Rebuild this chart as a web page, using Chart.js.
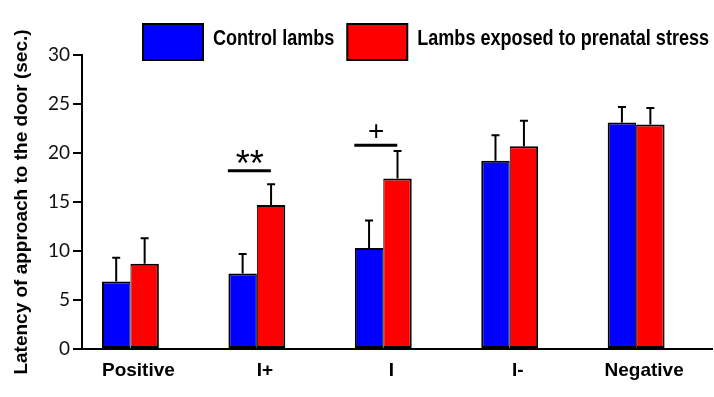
<!DOCTYPE html>
<html>
<head>
<meta charset="utf-8">
<script src="https://cdn.jsdelivr.net/npm/chart.js@4/dist/chart.umd.min.js"></script>
<style>
	html, body { margin: 0; padding: 0; background: #fff; }
</style>
</head>
<body>
<canvas id="myChart" width="714" height="397"></canvas>
<script>
/* 데이터 */
const categories = ['Positive', 'I+', 'I', 'I-', 'Negative'];
const controlMeans = [6.9, 7.7, 10.3, 19.2, 23.1];
const controlErrors = [2.4, 2.0, 2.8, 2.6, 1.6];
const stressMeans = [8.7, 14.7, 17.4, 20.7, 22.9];
const stressErrors = [2.6, 2.1, 2.8, 2.6, 1.7];
const yTicks = [0, 5, 10, 15, 20, 25, 30];

/* significance marks */
const sigIndex = [1, 2];
const sigLevel = [18.2, 20.8];
const sigText = ['**', '+'];

const boldFont = "'Liberation Sans', Arial, sans-serif";

/* error bars (위쪽만) */
const errorBarPlugin = {
	id: 'errorBars',
	afterDatasetsDraw(chart) {
		const ctx = chart.ctx;
		const yScale = chart.scales.y;
		ctx.save();
		ctx.strokeStyle = '#000';
		ctx.lineWidth = 2;
		chart.data.datasets.forEach((ds, di) => {
			const meta = chart.getDatasetMeta(di);
			meta.data.forEach((bar, i) => {
				const top = yScale.getPixelForValue(ds.data[i].y + ds.errors[i]);
				ctx.beginPath();
				ctx.moveTo(bar.x, bar.y);
				ctx.lineTo(bar.x, top);
				ctx.moveTo(bar.x - 4, top);
				ctx.lineTo(bar.x + 4, top);
				ctx.stroke();
			});
		});
		ctx.restore();
	}
};

/* ** and + over the groups */
const sigPlugin = {
	id: 'sigMarks',
	afterDatasetsDraw(chart) {
		const ctx = chart.ctx;
		const xScale = chart.scales.x;
		const yScale = chart.scales.y;
		ctx.save();
		ctx.strokeStyle = '#000';
		ctx.fillStyle = '#000';
		ctx.lineWidth = 3;
		ctx.textAlign = 'center';
		ctx.textBaseline = 'alphabetic';
		for (let k = 0; k < sigIndex.length; k++) {
			const cx = xScale.getPixelForValue(sigIndex[k]);
			const ly = yScale.getPixelForValue(sigLevel[k]);
			ctx.beginPath();
			ctx.moveTo(cx - 29, ly);
			ctx.lineTo(cx + 14, ly);
			ctx.stroke();
			ctx.font = (sigText[k] === '**' ? 36 : 28) + "px 'Liberation Sans', Arial, sans-serif";
			const m = ctx.measureText(sigText[k]);
			const mid = ly - 14;
			const base = mid + (m.actualBoundingBoxAscent - m.actualBoundingBoxDescent) / 2;
			ctx.fillText(sigText[k], cx - 7, base);
		}
		ctx.restore();
	}
};

/* legend with big boxes, narrow text */
const boxLegendPlugin = {
	id: 'boxLegend',
	afterDraw(chart) {
		const ctx = chart.ctx;
		const squeeze = 0.82;
		ctx.save();
		ctx.font = 'bold 22px ' + boldFont;
		ctx.textBaseline = 'alphabetic';
		ctx.textAlign = 'left';
		let x = 143;
		chart.data.datasets.forEach((ds) => {
			ctx.fillStyle = ds.backgroundColor;
			ctx.fillRect(x, 24, 60, 36);
			ctx.lineWidth = 2;
			ctx.strokeStyle = '#000';
			ctx.strokeRect(x, 24, 60, 36);
			x += 70;
			ctx.save();
			ctx.translate(x, 45);
			ctx.scale(squeeze, 1);
			ctx.fillStyle = '#000';
			ctx.fillText(ds.label, 0, 0);
			ctx.restore();
			x += ctx.measureText(ds.label).width * squeeze + 13;
		});
		ctx.restore();
	}
};

const myChart = new Chart(document.getElementById('myChart').getContext('2d'), {
	type: 'bar',
	data: {
		datasets: [
			{
				label: 'Control lambs',
				data: categories.map((c, i) => ({ x: i, y: controlMeans[i] })),
				errors: controlErrors,
				backgroundColor: '#0000ff',
				borderColor: '#000',
				borderWidth: { top: 2, left: 2, right: 1, bottom: 2 },
				borderSkipped: false
			},
			{
				label: 'Lambs exposed to prenatal stress',
				data: categories.map((c, i) => ({ x: i, y: stressMeans[i] })),
				errors: stressErrors,
				backgroundColor: '#ff0000',
				borderColor: '#000',
				borderWidth: { top: 2, left: 1, right: 2, bottom: 2 },
				borderSkipped: false
			}
		]
	},
	options: {
		responsive: false,
		animation: false,
		categoryPercentage: 0.45,
		barPercentage: 1.0,
		layout: { padding: { top: 55, right: 2, left: 0, bottom: 0 } },
		plugins: {
			legend: { display: false },
			tooltip: { enabled: false }
		},
		scales: {
			x: {
				type: 'linear',
				offset: false,
				bounds: 'data',
				min: -0.383,
				max: 4.6,
				afterBuildTicks: (s) => { s.ticks = categories.map((c, i) => ({ value: i })); },
				afterFit: (s) => { s.height = 48; },
				ticks: {
					callback: (v) => categories[v],
					color: '#000',
					font: { family: boldFont, size: 19, weight: 'bold' },
					padding: 10,
					labelOffset: 8,
					autoSkip: false,
					maxRotation: 0
				},
				grid: { display: false, drawTicks: false, offset: false },
				border: { color: '#000', width: 2 }
			},
			y: {
				min: 0,
				max: 30,
				afterBuildTicks: (s) => { s.ticks = yTicks.map(v => ({ value: v })); },
				afterFit: (s) => { s.width = 82; },
				ticks: {
					color: '#111',
					font: { family: 'Lato', size: 19 },
					padding: 3
				},
				grid: { drawOnChartArea: false, drawTicks: true, tickLength: 9, color: '#000', lineWidth: 2 },
				border: { color: '#000', width: 2 },
				title: {
					display: true,
					text: 'Latency of approach to the door (sec.)',
					color: '#000',
					font: { family: boldFont, size: 19, weight: 'bold' },
					padding: { top: 10, bottom: 0 }
				}
			}
		}
	},
	plugins: [errorBarPlugin, sigPlugin, boxLegendPlugin]
});
</script>
</body>
</html>
